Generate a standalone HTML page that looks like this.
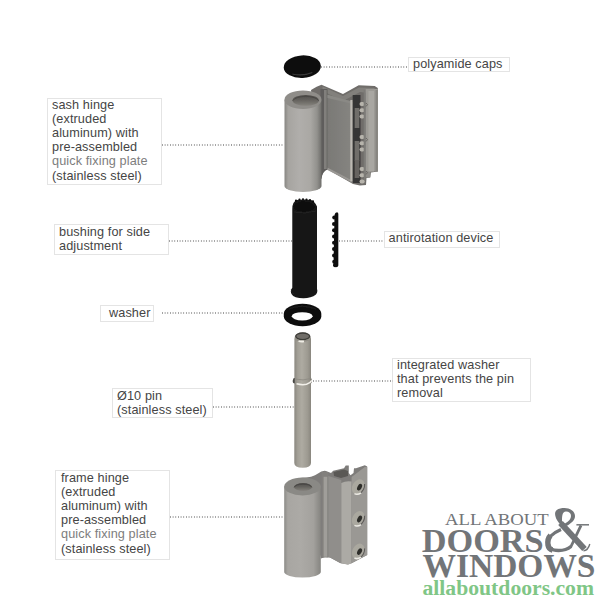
<!DOCTYPE html>
<html><head><meta charset="utf-8">
<style>
html,body{margin:0;padding:0;background:#fff;width:600px;height:600px;overflow:hidden;position:relative}
.lb{position:absolute;border:1px solid #e4e4e4;font-family:"Liberation Sans",sans-serif;font-size:12.7px;line-height:14.2px;letter-spacing:0.1px;color:#454545;box-sizing:border-box;white-space:nowrap}
.lt{color:#7d7d7d}
.in{position:relative;top:-1.5px}
.dl{position:absolute;height:2px;background-image:linear-gradient(to right,#9c9c9c 0,#9c9c9c 1.3px,transparent 1.3px);background-size:2.67px 2px;background-repeat:repeat-x}
svg{position:absolute;left:0;top:0}
.logo{position:absolute;font-family:"Liberation Serif",serif;color:#6e7174;white-space:nowrap}
</style></head><body>
<!-- labels -->
<div class="lb" style="left:47px;top:98px;width:115px;height:87px;padding:0 0 0 4px"><div class="in">sash hinge<br>(extruded<br>aluminum) with<br>pre-assembled<br><span class="lt">quick fixing plate</span><br>(stainless steel)</div></div>
<div class="lb" style="left:54px;top:224px;width:115px;height:31px;padding:1px 0 0 4px"><div class="in">bushing for side<br>adjustment</div></div>
<div class="lb" style="left:100px;top:305px;width:54px;height:17px;padding:1px 0 0 8px"><div class="in">washer</div></div>
<div class="lb" style="left:112px;top:388px;width:101px;height:30px;padding:1px 0 0 4px"><div class="in">Ø10 pin<br>(stainless steel)</div></div>
<div class="lb" style="left:55px;top:470px;width:115px;height:90px;padding:1px 0 0 5px"><div class="in">frame hinge<br>(extruded<br>aluminum) with<br>pre-assembled<br><span class="lt">quick fixing plate</span><br>(stainless steel)</div></div>
<div class="lb" style="left:408px;top:57px;width:102px;height:15px;padding:0 0 0 4px"><div class="in">polyamide caps</div></div>
<div class="lb" style="left:384px;top:231px;width:116px;height:17px;padding:0 0 0 3.6px"><div class="in">antirotation device</div></div>
<div class="lb" style="left:392px;top:358px;width:139px;height:44px;padding:0 0 0 4px"><div class="in">integrated washer<br>that prevents the pin<br>removal</div></div>
<!-- dotted lines -->
<div class="dl" style="left:321px;top:65.7px;width:87px"></div>
<div class="dl" style="left:162px;top:144px;width:122px"></div>
<div class="dl" style="left:169px;top:240px;width:123px"></div>
<div class="dl" style="left:339px;top:240px;width:45px"></div>
<div class="dl" style="left:162px;top:311.5px;width:122px"></div>
<div class="dl" style="left:312.5px;top:380.3px;width:80px"></div>
<div class="dl" style="left:213px;top:405.9px;width:81px"></div>
<div class="dl" style="left:170px;top:515.8px;width:114px"></div>
<svg width="600" height="600" viewBox="0 0 600 600">
<defs>
<linearGradient id="cyl" x1="0" x2="1" y1="0" y2="0">
<stop offset="0" stop-color="#878682"/><stop offset="0.1" stop-color="#a6a4a0"/><stop offset="0.4" stop-color="#b0aeab"/><stop offset="0.7" stop-color="#aaa8a4"/><stop offset="0.88" stop-color="#92918d"/><stop offset="1" stop-color="#6e6d6a"/>
</linearGradient>
<linearGradient id="cyl2" x1="0" x2="1" y1="0" y2="0">
<stop offset="0" stop-color="#8c8b87"/><stop offset="0.1" stop-color="#a8a6a2"/><stop offset="0.45" stop-color="#acaaa6"/><stop offset="0.8" stop-color="#a3a19d"/><stop offset="1" stop-color="#858480"/>
</linearGradient>
<linearGradient id="pin" x1="0" x2="1" y1="0" y2="0">
<stop offset="0" stop-color="#8a877f"/><stop offset="0.2" stop-color="#a29f96"/><stop offset="0.45" stop-color="#aeaba2"/><stop offset="0.8" stop-color="#9d9a91"/><stop offset="1" stop-color="#89867e"/>
</linearGradient>
<linearGradient id="face1" x1="0" x2="1" y1="0" y2="0">
<stop offset="0" stop-color="#7a7976"/><stop offset="1" stop-color="#868581"/>
</linearGradient>
<linearGradient id="hole" x1="0" x2="0" y1="0" y2="1"><stop offset="0" stop-color="#4f4d4a"/><stop offset="0.45" stop-color="#63615d"/><stop offset="1" stop-color="#85827d"/></linearGradient>
<filter id="soft" x="-5%" y="-5%" width="110%" height="110%"><feGaussianBlur stdDeviation="0.35"/></filter>
</defs>
<g filter="url(#soft)">
<!-- ===== cap ===== -->
<g transform="rotate(-3 302.3 66.7)">
<ellipse cx="302.3" cy="66.7" rx="18.6" ry="11.3" fill="#0d0d0d"/>
<path d="M292,73.5 Q302,76.5 312,73" stroke="#4a4a4a" stroke-width="1.2" fill="none" opacity="0.7"/>
</g>
<!-- ===== sash hinge ===== -->
<path d="M311,90 Q317,86 321.5,84.7 L343,94 L358.7,85.3 L374.7,86 L377.8,88 L377.8,171.5 L371,172.5 L370,177.5 L366.5,178 L366,185 L360,185.5 L353,184 L327.7,169.5 Q322.5,170.5 321.3,179 Z" fill="#6f6d6a"/>
<path d="M322.5,86.5 L343,96 L359,87.5 L374,88 L376.5,90 L376.5,94 L360,92 L343,101 L322.5,91 Z" fill="#82807c"/>
<path d="M320.5,89 L327.5,89 L327.5,169.5 Q322.5,170.5 321.3,179 L320.5,179 Z" fill="#5e5d5b"/>
<rect x="324" y="90" width="2.7" height="79" fill="#817f7b"/>
<path d="M327.5,94.7 L350,101 L352.7,102 L352.7,180.5 L327.5,167.5 Z" fill="url(#face1)"/>
<path d="M327.5,94.7 L350,101 L352.7,102 L352.7,104 L327.5,98 Z" fill="#8a8985"/>
<path d="M327.5,167.5 L352.7,180.5 L352.7,183 L327.5,170 Z" fill="#9a9894"/>
<rect x="350.3" y="100" width="2.4" height="81" fill="#bcb9b3"/>
<rect x="352.7" y="95" width="7.8" height="88" fill="#363534"/>
<rect x="354.7" y="108" width="4.6" height="20" fill="#706e6b"/>
<rect x="354.7" y="141" width="4.6" height="20" fill="#706e6b"/>
<rect x="354.7" y="160" width="4.6" height="18" fill="#666461"/>
<g fill="#b7b4ac">
<rect x="359.5" y="102" width="5.2" height="4" rx="2"/><rect x="359.5" y="108.3" width="5.2" height="4" rx="2"/><rect x="359.5" y="114.6" width="5.2" height="4" rx="2"/>
<rect x="359.5" y="135" width="5.2" height="4" rx="2"/><rect x="359.5" y="141.3" width="5.2" height="4" rx="2"/><rect x="359.5" y="147.6" width="5.2" height="4" rx="2"/>
<rect x="359.5" y="167" width="5.2" height="4" rx="2"/><rect x="359.5" y="173.3" width="5.2" height="4" rx="2"/><rect x="359.5" y="179.6" width="5.2" height="4" rx="2"/>
</g>
<rect x="363.7" y="90" width="2" height="90" fill="#7d7b78"/>
<rect x="365.7" y="89" width="12.1" height="82.5" fill="#9c9a95"/>
<rect x="365.7" y="171" width="4.8" height="6.5" fill="#8f8d89"/>
<rect x="368.5" y="91" width="5.5" height="80.5" fill="#a9a7a2"/>
<rect x="375.5" y="90" width="2.3" height="81.5" fill="#878581"/>
<path d="M366,103 q3,1.5 0,3.5 M366,138 q3,1.5 0,3.5 M366,171 q3,1.5 0,3.5" stroke="#6b6864" stroke-width="1" fill="none"/>
<!-- cylinder -->
<path d="M284.5,99.7 L284.5,186 A18.5,6 0 0 0 321.5,186 L321.5,99.7 Z" fill="url(#cyl)"/>
<ellipse cx="303" cy="99.7" rx="18.5" ry="9.3" fill="#8f8d89"/>
<ellipse cx="305.7" cy="100.4" rx="13.2" ry="5.4" fill="url(#hole)"/>
<path d="M292.8,100.6 A13.2,5.4 0 0 1 318.6,100.6" stroke="#4a4845" stroke-width="1" fill="none"/>
<!-- ===== bushing ===== -->
<path d="M292.3,209 Q292.3,201.5 297,200 Q304,198.8 311,200 Q314.5,201 317,206.5 L317,289 Q318,292 316,294.5 Q311,298.3 303.5,298.3 Q294,298.3 291.5,294 Q289.8,290.5 292.3,287.7 Z" fill="#151515"/>
<path d="M293.5,207 Q295,202 303,201.5 Q312,201.8 315,207 Q313,211 304,211.5 Q295,211 293.5,207 Z" fill="#0b0b0b"/>
<path d="M294,212 Q304,214.5 316,211" stroke="#262626" stroke-width="0.9" fill="none"/>
<g fill="#0b0b0b">
<circle cx="296" cy="200.6" r="1.1"/><circle cx="299.5" cy="199.6" r="1.1"/><circle cx="303" cy="199.3" r="1.1"/><circle cx="306.5" cy="199.5" r="1.1"/><circle cx="310" cy="200.1" r="1.1"/><circle cx="313" cy="201.4" r="1.1"/>
</g>
<path d="M291.3,289.5 Q291,293 294,294" stroke="#2a2a2a" stroke-width="0.7" fill="none"/>
<!-- ===== antirotation ===== -->
<path d="M334.5,215 Q335,212.3 337,212.3 Q338.3,212.5 338.3,214 L338.3,265.5 Q338.3,267.3 336,267.3 Q334,267 333.5,265 Z" fill="#0f0f0f"/>
<g fill="#0f0f0f">
<circle cx="334.2" cy="217.6" r="2"/><circle cx="334" cy="223.9" r="2"/><circle cx="334" cy="230.2" r="2"/><circle cx="334" cy="236.5" r="2"/><circle cx="334" cy="242.8" r="2"/><circle cx="334" cy="249.1" r="2"/><circle cx="334" cy="255.4" r="2"/><circle cx="334.2" cy="261.7" r="2"/><circle cx="335" cy="265.3" r="2"/>
</g>
<!-- ===== washer ===== -->
<path d="M283.8,313.8 A18.75,10 0 0 1 321.3,313.8 L321.3,316.3 A18.75,10 0 0 1 283.8,316.3 Z" fill="#101010"/>
<path d="M289,309 Q302,303.5 316,309" stroke="#2a2a2a" stroke-width="0.8" fill="none" opacity="0.6"/>
<ellipse cx="302.2" cy="316.3" rx="10.4" ry="4.15" fill="#fff"/>
<!-- ===== pin ===== -->
<path d="M294.4,339 Q294.4,332.2 302.7,332.2 Q311,332.2 311,339 L311,463 Q311,467.7 302.7,467.7 Q294.3,467.7 294.3,463 Z" fill="url(#pin)"/>
<ellipse cx="302.7" cy="336.3" rx="6.9" ry="3.3" fill="#6f6d68" stroke="#3d3c39" stroke-width="1.3"/>
<path d="M296.5,339.8 Q302.7,342.2 308.5,339.8" stroke="#8f8c84" stroke-width="1.4" fill="none"/>
<path d="M298.5,341 Q301,341.8 304,341.3" stroke="#f0eee6" stroke-width="1.8" fill="none"/>
<path d="M293.5,378.3 Q292.2,380.5 293.2,383 L294.8,383.5 L294.8,378 Z" fill="#4a4844"/>
<path d="M311,377.8 Q312.6,380 311.6,383 L310.5,383.5 L310.5,377.5 Z" fill="#77746d"/>
<path d="M296.5,383.8 Q302,385.2 306.5,384.3 Q310.5,383 311.8,380.3" stroke="#f2f0ea" stroke-width="1.5" fill="none"/>
<path d="M295,379 Q303,381 311,378.5" stroke="#8c8981" stroke-width="0.8" fill="none"/>
<!-- ===== frame hinge ===== -->
<path d="M300,478 Q313,477.5 318,473.5 Q322,470.3 326,471 L331,473 L333.2,470.8 L344,468.2 L345.7,465.6 L348.8,465.6 L348.8,473 L350.5,475.2 L353.5,473 L354,468.2 L356,468.2 L364.8,465.2 L367.2,466.5 L367.2,555 L353,562.5 L348,564.5 L340,563 L330,557.5 L325,557 L321,558.5 Z" fill="#7e7c7a"/>
<path d="M333.5,472 L344,469.5 L348,471 L348,476 L341,478 L334,476 Z" fill="#5a5855"/>
<rect x="321.7" y="472" width="6.6" height="85.5" fill="#82807d"/>
<rect x="323.6" y="476.8" width="3.7" height="80" fill="#a09e9a"/>
<path d="M328.3,476 L341.3,480 L341.3,563.4 L330,557.5 L328.3,557.3 Z" fill="#908e8b"/>
<path d="M341.3,483 Q346,480.5 351.6,481.5 L351.6,563.6 L348,564.5 L341.3,563.4 Z" fill="#acaaa5"/>
<path d="M351.6,477 L364.8,467 L367.2,467 L367.2,555 L353,562.5 L351.6,563.6 Z" fill="#9a9894"/>
<g>
<g transform="rotate(28 358.2 486.8)">
<ellipse cx="358.2" cy="486.8" rx="5.8" ry="8" fill="#aaa89f"/>
<path d="M362.5,481.3 A5.8,8 0 0 1 362.5,492.3" stroke="#5f5d5a" stroke-width="1.1" fill="none"/>
<ellipse cx="359.6" cy="486.5" rx="2.1" ry="3.6" fill="#2f2e2c"/>
</g>
<path d="M354.5,493.6 Q357.5,495.1 361,492.8" stroke="#eeece6" stroke-width="1.6" fill="none"/>
<g transform="rotate(28 358.2 518.6)">
<ellipse cx="358.2" cy="518.6" rx="5.8" ry="8" fill="#aaa89f"/>
<path d="M362.5,513.1 A5.8,8 0 0 1 362.5,524.1" stroke="#5f5d5a" stroke-width="1.1" fill="none"/>
<ellipse cx="359.6" cy="518.3000000000001" rx="2.1" ry="3.6" fill="#2f2e2c"/>
</g>
<path d="M354.5,525.4 Q357.5,526.9 361,524.6" stroke="#eeece6" stroke-width="1.6" fill="none"/>
<g transform="rotate(28 358.2 551.2)">
<ellipse cx="358.2" cy="551.2" rx="5.8" ry="8" fill="#aaa89f"/>
<path d="M362.5,545.7 A5.8,8 0 0 1 362.5,556.7" stroke="#5f5d5a" stroke-width="1.1" fill="none"/>
<ellipse cx="359.6" cy="550.9000000000001" rx="2.1" ry="3.6" fill="#2f2e2c"/>
</g>
<path d="M354.5,558.0 Q357.5,559.5 361,557.2" stroke="#eeece6" stroke-width="1.6" fill="none"/>
</g>
<!-- cylinder -->
<path d="M284.2,486.5 L284.2,572 A18.3,5.5 0 0 0 320.8,572 L320.8,486.5 Z" fill="url(#cyl2)"/>
<ellipse cx="302.5" cy="486.5" rx="18.3" ry="9" fill="#8a8985"/>
<ellipse cx="303" cy="487" rx="9" ry="4" fill="url(#hole)"/>
<path d="M294.2,487.3 A9,4 0 0 1 311.8,487.3" stroke="#484643" stroke-width="1" fill="none"/>
</g>
</svg>



















<!-- logo -->
<svg width="600" height="600" viewBox="0 0 600 600" style="position:absolute;left:0;top:0">
<g font-family="Liberation Serif" fill="#727578">
<text x="445" y="524.8" font-size="16.7" textLength="103.7" lengthAdjust="spacingAndGlyphs">ALL ABOUT</text>
<text x="421.7" y="552" font-size="34.3" font-weight="bold" textLength="122" lengthAdjust="spacingAndGlyphs">DOORS</text>
<text x="422.5" y="577.3" font-size="32.8" font-weight="bold" textLength="173" lengthAdjust="spacingAndGlyphs">WINDOWS</text>
<text x="422.5" y="594.8" font-size="20.4" font-weight="bold" fill="#80c686" textLength="171.5" lengthAdjust="spacingAndGlyphs">allaboutdoors.com</text>
</g>
<g fill="#727578"><path fill-rule="evenodd" d="M562.4,526.5 C556,521 554.6,515 555.2,512.5 C556.3,508.8 560.5,508 564.5,508 C570,508 575,511 575,516 C575,520 572,522.5 567.5,525.5 Z M562.2,522.5 C561.8,517 562,511.4 566,511.4 C569,511.4 571,513 571,516 C571,519 569,521.2 565,523.5 Z"/></g>
<g stroke="#727578" fill="none">
<path d="M560.5,523 L584.5,549" stroke-width="6.2"/>
<path d="M561,529.5 C553,533 547.8,538 547.8,543 C547.8,548.5 552,550.5 558.7,550.5 C564,550.5 568,549 571,546.5" stroke-width="3.3"/>
<path d="M550.5,535.5 C548,538 547.6,542 548,545 C548.5,548 550,549.5 552.5,550" stroke-width="5.4"/>
<path d="M570.5,547.5 L581,525.4" stroke-width="2.8"/>
<path d="M576.4,524.8 L589,524.8" stroke-width="1.5"/>
<path d="M583.5,550.8 C587.5,550.5 589,547 589.8,544" stroke-width="1.4"/>
</g>
</svg>
</body></html>
